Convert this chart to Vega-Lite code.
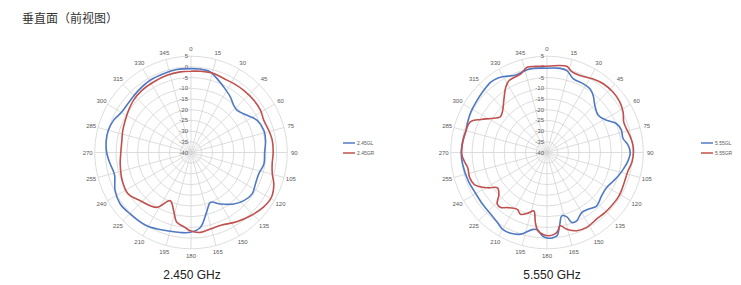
{
  "$schema": "https://vega.github.io/schema/vega-lite/v6.json",
  "background": "white",
  "padding": {"left": 13, "top": 13, "right": 0, "bottom": 0},
  "title": {"text": "垂直面（前视图）", "anchor": "start", "font": "Noto Sans CJK SC", "fontSize": 12, "fontWeight": "normal", "color": "#333333", "dx": 9, "offset": 5},
  "config": {"view": {"stroke": null}, "text": {"font": "Liberation Sans"}, "concat": {"spacing": 0}},
  "spacing": 0,
  "bounds": "flush",
  "datasets": {
    "rings": [{"v": 5}, {"v": 0}, {"v": -5}, {"v": -10}, {"v": -15}, {"v": -20}, {"v": -25}, {"v": -30}, {"v": -35}],
    "ticks": [{"v": 5}, {"v": 0}, {"v": -5}, {"v": -10}, {"v": -15}, {"v": -20}, {"v": -25}, {"v": -30}, {"v": -35}, {"v": -40}],
    "spokes": [{"a": 0}, {"a": 15}, {"a": 30}, {"a": 45}, {"a": 60}, {"a": 75}, {"a": 90}, {"a": 105}, {"a": 120}, {"a": 135}, {"a": 150}, {"a": 165}, {"a": 180}, {"a": 195}, {"a": 210}, {"a": 225}, {"a": 240}, {"a": 255}, {"a": 270}, {"a": 285}, {"a": 300}, {"a": 315}, {"a": 330}, {"a": 345}],
    "p1": [
      {"s": "2.45GL", "a": 0, "db": -0.8}, {"s": "2.45GL", "a": 6, "db": -0.8}, {"s": "2.45GL", "a": 13.5, "db": -1.3}, {"s": "2.45GL", "a": 19.4, "db": -3.4}, {"s": "2.45GL", "a": 26.6, "db": -5.8}, {"s": "2.45GL", "a": 35.4, "db": -8.2}, {"s": "2.45GL", "a": 42.2, "db": -10.3}, {"s": "2.45GL", "a": 47.6, "db": -10.8}, {"s": "2.45GL", "a": 56.5, "db": -8.5}, {"s": "2.45GL", "a": 64.1, "db": -5.6}, {"s": "2.45GL", "a": 73.2, "db": -4.4}, {"s": "2.45GL", "a": 80.8, "db": -4.7}, {"s": "2.45GL", "a": 90, "db": -5.6}, {"s": "2.45GL", "a": 98.9, "db": -5.5}, {"s": "2.45GL", "a": 107.5, "db": -6.8}, {"s": "2.45GL", "a": 116, "db": -6.5}, {"s": "2.45GL", "a": 124.1, "db": -5.5}, {"s": "2.45GL", "a": 132.3, "db": -6.6}, {"s": "2.45GL", "a": 140.3, "db": -8.7}, {"s": "2.45GL", "a": 150.3, "db": -12.3}, {"s": "2.45GL", "a": 158.7, "db": -15.0}, {"s": "2.45GL", "a": 164.6, "db": -11.8}, {"s": "2.45GL", "a": 172.9, "db": -4.7}, {"s": "2.45GL", "a": 180.5, "db": -2.7}, {"s": "2.45GL", "a": 187.6, "db": -2.3}, {"s": "2.45GL", "a": 197.1, "db": -1.7}, {"s": "2.45GL", "a": 211.1, "db": 0.0}, {"s": "2.45GL", "a": 224.7, "db": 0.4}, {"s": "2.45GL", "a": 234, "db": 0.9}, {"s": "2.45GL", "a": 243.3, "db": -0.3}, {"s": "2.45GL", "a": 253.9, "db": -2.8}, {"s": "2.45GL", "a": 262.2, "db": -1.8}, {"s": "2.45GL", "a": 270, "db": -0.6}, {"s": "2.45GL", "a": 278.1, "db": 0.0}, {"s": "2.45GL", "a": 285, "db": 0.0}, {"s": "2.45GL", "a": 292.5, "db": -0.8}, {"s": "2.45GL", "a": 300.3, "db": -2.5}, {"s": "2.45GL", "a": 310.6, "db": -2.6}, {"s": "2.45GL", "a": 319.8, "db": -2.0}, {"s": "2.45GL", "a": 330.5, "db": -1.2}, {"s": "2.45GL", "a": 340.8, "db": -1.0}, {"s": "2.45GL", "a": 350.4, "db": -0.7}, {"s": "2.45GL", "a": 360, "db": -0.8},
      {"s": "2.45GR", "a": 0, "db": -2.0}, {"s": "2.45GR", "a": 6.6, "db": -1.8}, {"s": "2.45GR", "a": 16.1, "db": -1.6}, {"s": "2.45GR", "a": 23.9, "db": -2.2}, {"s": "2.45GR", "a": 31.9, "db": -2.1}, {"s": "2.45GR", "a": 40.3, "db": -1.9}, {"s": "2.45GR", "a": 50.3, "db": -1.8}, {"s": "2.45GR", "a": 58.8, "db": -2.0}, {"s": "2.45GR", "a": 66.2, "db": -2.8}, {"s": "2.45GR", "a": 74.2, "db": -2.2}, {"s": "2.45GR", "a": 81.6, "db": -1.6}, {"s": "2.45GR", "a": 90, "db": -1.6}, {"s": "2.45GR", "a": 98, "db": -1.7}, {"s": "2.45GR", "a": 104.8, "db": -0.7}, {"s": "2.45GR", "a": 110.8, "db": 1.4}, {"s": "2.45GR", "a": 118.9, "db": 3.0}, {"s": "2.45GR", "a": 127, "db": 2.4}, {"s": "2.45GR", "a": 136.7, "db": 0.6}, {"s": "2.45GR", "a": 146.6, "db": -1.2}, {"s": "2.45GR", "a": 157, "db": -3.2}, {"s": "2.45GR", "a": 165.8, "db": -3.1}, {"s": "2.45GR", "a": 173.3, "db": -2.4}, {"s": "2.45GR", "a": 180.5, "db": -3.4}, {"s": "2.45GR", "a": 185, "db": -5.0}, {"s": "2.45GR", "a": 191.4, "db": -6.7}, {"s": "2.45GR", "a": 196.6, "db": -11.6}, {"s": "2.45GR", "a": 203.3, "db": -15.5}, {"s": "2.45GR", "a": 211.9, "db": -9.8}, {"s": "2.45GR", "a": 226.5, "db": -7.3}, {"s": "2.45GR", "a": 237.1, "db": -4.8}, {"s": "2.45GR", "a": 247.9, "db": -5.3}, {"s": "2.45GR", "a": 260.9, "db": -6.5}, {"s": "2.45GR", "a": 270, "db": -7.2}, {"s": "2.45GR", "a": 279.9, "db": -7.2}, {"s": "2.45GR", "a": 287.9, "db": -6.5}, {"s": "2.45GR", "a": 296, "db": -5.8}, {"s": "2.45GR", "a": 304, "db": -4.8}, {"s": "2.45GR", "a": 312.2, "db": -3.7}, {"s": "2.45GR", "a": 321.7, "db": -3.0}, {"s": "2.45GR", "a": 332, "db": -2.7}, {"s": "2.45GR", "a": 342.7, "db": -2.2}, {"s": "2.45GR", "a": 352.4, "db": -2.0}, {"s": "2.45GR", "a": 360, "db": -2.0}
    ],
    "p2": [
      {"s": "5.55GL", "a": 0, "db": -0.6}, {"s": "5.55GL", "a": 8.9, "db": -0.2}, {"s": "5.55GL", "a": 13.6, "db": -0.6}, {"s": "5.55GL", "a": 19.7, "db": -3.4}, {"s": "5.55GL", "a": 27.9, "db": -3.7}, {"s": "5.55GL", "a": 34, "db": -4.1}, {"s": "5.55GL", "a": 39, "db": -5.7}, {"s": "5.55GL", "a": 45.4, "db": -8.6}, {"s": "5.55GL", "a": 53.9, "db": -10.4}, {"s": "5.55GL", "a": 61.4, "db": -8.4}, {"s": "5.55GL", "a": 67.3, "db": -4.9}, {"s": "5.55GL", "a": 73.2, "db": -3.7}, {"s": "5.55GL", "a": 79.4, "db": -3.9}, {"s": "5.55GL", "a": 84.6, "db": -2.0}, {"s": "5.55GL", "a": 90, "db": -1.1}, {"s": "5.55GL", "a": 96.3, "db": -2.0}, {"s": "5.55GL", "a": 102.7, "db": -3.6}, {"s": "5.55GL", "a": 108.5, "db": -5.0}, {"s": "5.55GL", "a": 113.5, "db": -6.3}, {"s": "5.55GL", "a": 120.7, "db": -7.7}, {"s": "5.55GL", "a": 128.7, "db": -7.4}, {"s": "5.55GL", "a": 137.2, "db": -5.9}, {"s": "5.55GL", "a": 144, "db": -7.2}, {"s": "5.55GL", "a": 150, "db": -7.6}, {"s": "5.55GL", "a": 156.5, "db": -5.2}, {"s": "5.55GL", "a": 160.5, "db": -5.3}, {"s": "5.55GL", "a": 162.9, "db": -8.5}, {"s": "5.55GL", "a": 166.8, "db": -9.6}, {"s": "5.55GL", "a": 170.3, "db": -5.2}, {"s": "5.55GL", "a": 173.2, "db": -0.8}, {"s": "5.55GL", "a": 176.7, "db": 0.0}, {"s": "5.55GL", "a": 180, "db": 0.0}, {"s": "5.55GL", "a": 183.4, "db": -1.1}, {"s": "5.55GL", "a": 187, "db": -3.6}, {"s": "5.55GL", "a": 191, "db": -3.3}, {"s": "5.55GL", "a": 197.9, "db": 0.1}, {"s": "5.55GL", "a": 204.2, "db": 1.4}, {"s": "5.55GL", "a": 210.2, "db": 1.4}, {"s": "5.55GL", "a": 215.3, "db": 0.1}, {"s": "5.55GL", "a": 222.3, "db": -1.0}, {"s": "5.55GL", "a": 231.2, "db": -1.4}, {"s": "5.55GL", "a": 242, "db": -1.5}, {"s": "5.55GL", "a": 250, "db": -0.9}, {"s": "5.55GL", "a": 261.7, "db": -0.2}, {"s": "5.55GL", "a": 270, "db": 0.1}, {"s": "5.55GL", "a": 277.4, "db": -0.3}, {"s": "5.55GL", "a": 285.5, "db": -0.8}, {"s": "5.55GL", "a": 291.2, "db": -0.3}, {"s": "5.55GL", "a": 298.1, "db": 0.3}, {"s": "5.55GL", "a": 305.4, "db": 0.7}, {"s": "5.55GL", "a": 313.2, "db": 1.3}, {"s": "5.55GL", "a": 321.4, "db": 2.1}, {"s": "5.55GL", "a": 326.3, "db": 1.7}, {"s": "5.55GL", "a": 330.5, "db": 0.8}, {"s": "5.55GL", "a": 336.8, "db": -0.9}, {"s": "5.55GL", "a": 341.6, "db": -0.8}, {"s": "5.55GL", "a": 346.6, "db": -0.2}, {"s": "5.55GL", "a": 351.1, "db": -0.2}, {"s": "5.55GL", "a": 360, "db": -0.6},
      {"s": "5.55GR", "a": 0, "db": 0.3}, {"s": "5.55GR", "a": 12.9, "db": 1.3}, {"s": "5.55GR", "a": 17, "db": -0.5}, {"s": "5.55GR", "a": 23.2, "db": -0.9}, {"s": "5.55GR", "a": 32.1, "db": 0.6}, {"s": "5.55GR", "a": 39.3, "db": 1.5}, {"s": "5.55GR", "a": 47.5, "db": 1.8}, {"s": "5.55GR", "a": 55.2, "db": 1.4}, {"s": "5.55GR", "a": 61.9, "db": 0.3}, {"s": "5.55GR", "a": 68.2, "db": -1.4}, {"s": "5.55GR", "a": 73.1, "db": -1.3}, {"s": "5.55GR", "a": 79.2, "db": -0.4}, {"s": "5.55GR", "a": 84.9, "db": 0.3}, {"s": "5.55GR", "a": 90, "db": 0.4}, {"s": "5.55GR", "a": 96, "db": 0.0}, {"s": "5.55GR", "a": 103.1, "db": -1.2}, {"s": "5.55GR", "a": 110.3, "db": -1.3}, {"s": "5.55GR", "a": 117.5, "db": -0.9}, {"s": "5.55GR", "a": 122.5, "db": -0.7}, {"s": "5.55GR", "a": 129.7, "db": -0.9}, {"s": "5.55GR", "a": 136.1, "db": -1.0}, {"s": "5.55GR", "a": 143.4, "db": -1.2}, {"s": "5.55GR", "a": 152.1, "db": -0.4}, {"s": "5.55GR", "a": 159.2, "db": -0.9}, {"s": "5.55GR", "a": 165.5, "db": -3.0}, {"s": "5.55GR", "a": 169.8, "db": -5.2}, {"s": "5.55GR", "a": 172.4, "db": -2.8}, {"s": "5.55GR", "a": 175.4, "db": -1.5}, {"s": "5.55GR", "a": 178.9, "db": -1.1}, {"s": "5.55GR", "a": 182.3, "db": -1.5}, {"s": "5.55GR", "a": 186.7, "db": -3.2}, {"s": "5.55GR", "a": 189.4, "db": -6.8}, {"s": "5.55GR", "a": 192.7, "db": -12.0}, {"s": "5.55GR", "a": 197, "db": -10.5}, {"s": "5.55GR", "a": 203.2, "db": -8.6}, {"s": "5.55GR", "a": 207.6, "db": -10.0}, {"s": "5.55GR", "a": 215.7, "db": -8.3}, {"s": "5.55GR", "a": 220, "db": -6.4}, {"s": "5.55GR", "a": 224, "db": -6.5}, {"s": "5.55GR", "a": 229, "db": -10.2}, {"s": "5.55GR", "a": 234.5, "db": -11.6}, {"s": "5.55GR", "a": 239.3, "db": -7.7}, {"s": "5.55GR", "a": 246.2, "db": -2.9}, {"s": "5.55GR", "a": 252, "db": -2.0}, {"s": "5.55GR", "a": 258.9, "db": -2.3}, {"s": "5.55GR", "a": 263.8, "db": -1.2}, {"s": "5.55GR", "a": 268.4, "db": -0.2}, {"s": "5.55GR", "a": 277.4, "db": -0.3}, {"s": "5.55GR", "a": 285.5, "db": -0.8}, {"s": "5.55GR", "a": 291.8, "db": -1.4}, {"s": "5.55GR", "a": 296.6, "db": -5.5}, {"s": "5.55GR", "a": 301.2, "db": -9.3}, {"s": "5.55GR", "a": 307.3, "db": -12.5}, {"s": "5.55GR", "a": 312.3, "db": -11.8}, {"s": "5.55GR", "a": 321.4, "db": -7.8}, {"s": "5.55GR", "a": 327.7, "db": -3.9}, {"s": "5.55GR", "a": 332.2, "db": -2.0}, {"s": "5.55GR", "a": 341.4, "db": -1.3}, {"s": "5.55GR", "a": 346.9, "db": 0.9}, {"s": "5.55GR", "a": 352.4, "db": 0.6}, {"s": "5.55GR", "a": 360, "db": 0.3}
    ]
  },
  "hconcat": [
    {
      "width": 356, "height": 243,
      "title": {"text": "2.450 GHz", "orient": "bottom", "offset": -4, "fontSize": 12, "font": "Liberation Sans", "fontWeight": "normal", "color": "#222222", "dx": 1},
      "layer": [
        {"data": {"name": "spokes"},
         "transform": [{"calculate": "0", "as": "o"}, {"calculate": "45*sin(datum.a*PI/180)", "as": "x2"}, {"calculate": "45*cos(datum.a*PI/180)", "as": "y2"}],
         "mark": {"type": "rule", "stroke": "#d4d4d4", "strokeWidth": 0.8},
         "encoding": {"x": {"field": "o", "type": "quantitative", "scale": {"domain": [-83.18, 83.18], "nice": false, "zero": false}, "axis": null},
                      "y": {"field": "o", "type": "quantitative", "scale": {"domain": [-56.78, 56.78], "nice": false, "zero": false}, "axis": null},
                      "x2": {"field": "x2"}, "y2": {"field": "y2"}}},
        {"data": {"name": "rings"},
         "transform": [{"calculate": "datum.v+40", "as": "r"}, {"calculate": "0", "as": "o"}],
         "mark": {"type": "point", "shape": "circle", "filled": false, "stroke": "#d4d4d4", "strokeWidth": 0.8, "opacity": 1},
         "encoding": {"x": {"field": "o", "type": "quantitative"}, "y": {"field": "o", "type": "quantitative"},
                      "size": {"field": "r", "type": "quantitative", "scale": {"type": "pow", "exponent": 2, "domain": [0, 45], "range": [0, 37094], "zero": false}, "legend": null}}},
        {"data": {"name": "spokes"},
         "transform": [{"calculate": "48.3*sin(datum.a*PI/180)", "as": "tx"}, {"calculate": "48.3*cos(datum.a*PI/180)", "as": "ty"}],
         "mark": {"type": "text", "fontSize": 6, "color": "#595959"},
         "encoding": {"x": {"field": "tx", "type": "quantitative"}, "y": {"field": "ty", "type": "quantitative"}, "text": {"field": "a", "type": "nominal"}}},
        {"data": {"name": "ticks"},
         "transform": [{"calculate": "datum.v+40", "as": "r"}, {"calculate": "0", "as": "o"}],
         "mark": {"type": "text", "fontSize": 6, "color": "#595959", "align": "right", "dx": -3, "baseline": "middle"},
         "encoding": {"x": {"field": "o", "type": "quantitative"}, "y": {"field": "r", "type": "quantitative"}, "text": {"field": "v", "type": "nominal"}}},
        {"data": {"name": "p1"},
         "transform": [{"calculate": "(datum.db+40)*sin(datum.a*PI/180)", "as": "x"}, {"calculate": "(datum.db+40)*cos(datum.a*PI/180)", "as": "y"}],
         "mark": {"type": "line", "interpolate": "catmull-rom", "strokeWidth": 1.6},
         "encoding": {"x": {"field": "x", "type": "quantitative"}, "y": {"field": "y", "type": "quantitative"}, "order": {"field": "a", "type": "quantitative"},
                      "color": {"field": "s", "type": "nominal", "scale": {"domain": ["2.45GL", "2.45GR"], "range": ["#5079c4", "#c0504d"]},
                                "legend": {"orient": "none", "legendX": 329, "legendY": 105, "title": null, "symbolType": "stroke", "symbolSize": 144, "symbolStrokeWidth": 1.5, "labelFontSize": 5, "labelColor": "#595959", "labelOffset": 1, "rowPadding": 0, "padding": 0}}}}
      ]
    },
    {
      "width": 356, "height": 243,
      "title": {"text": "5.550 GHz", "orient": "bottom", "offset": -4, "fontSize": 12, "font": "Liberation Sans", "fontWeight": "normal", "color": "#222222", "dx": 5},
      "layer": [
        {"data": {"name": "spokes"},
         "transform": [{"calculate": "0", "as": "o"}, {"calculate": "45*sin(datum.a*PI/180)", "as": "x2"}, {"calculate": "45*cos(datum.a*PI/180)", "as": "y2"}],
         "mark": {"type": "rule", "stroke": "#d4d4d4", "strokeWidth": 0.8},
         "encoding": {"x": {"field": "o", "type": "quantitative", "scale": {"domain": [-83.18, 83.18], "nice": false, "zero": false}, "axis": null},
                      "y": {"field": "o", "type": "quantitative", "scale": {"domain": [-56.78, 56.78], "nice": false, "zero": false}, "axis": null},
                      "x2": {"field": "x2"}, "y2": {"field": "y2"}}},
        {"data": {"name": "rings"},
         "transform": [{"calculate": "datum.v+40", "as": "r"}, {"calculate": "0", "as": "o"}],
         "mark": {"type": "point", "shape": "circle", "filled": false, "stroke": "#d4d4d4", "strokeWidth": 0.8, "opacity": 1},
         "encoding": {"x": {"field": "o", "type": "quantitative"}, "y": {"field": "o", "type": "quantitative"},
                      "size": {"field": "r", "type": "quantitative", "scale": {"type": "pow", "exponent": 2, "domain": [0, 45], "range": [0, 37094], "zero": false}, "legend": null}}},
        {"data": {"name": "spokes"},
         "transform": [{"calculate": "48.3*sin(datum.a*PI/180)", "as": "tx"}, {"calculate": "48.3*cos(datum.a*PI/180)", "as": "ty"}],
         "mark": {"type": "text", "fontSize": 6, "color": "#595959"},
         "encoding": {"x": {"field": "tx", "type": "quantitative"}, "y": {"field": "ty", "type": "quantitative"}, "text": {"field": "a", "type": "nominal"}}},
        {"data": {"name": "ticks"},
         "transform": [{"calculate": "datum.v+40", "as": "r"}, {"calculate": "0", "as": "o"}],
         "mark": {"type": "text", "fontSize": 6, "color": "#595959", "align": "right", "dx": -3, "baseline": "middle"},
         "encoding": {"x": {"field": "o", "type": "quantitative"}, "y": {"field": "r", "type": "quantitative"}, "text": {"field": "v", "type": "nominal"}}},
        {"data": {"name": "p2"},
         "transform": [{"calculate": "(datum.db+40)*sin(datum.a*PI/180)", "as": "x"}, {"calculate": "(datum.db+40)*cos(datum.a*PI/180)", "as": "y"}],
         "mark": {"type": "line", "interpolate": "catmull-rom", "strokeWidth": 1.6},
         "encoding": {"x": {"field": "x", "type": "quantitative"}, "y": {"field": "y", "type": "quantitative"}, "order": {"field": "a", "type": "quantitative"},
                      "color": {"field": "s", "type": "nominal", "scale": {"domain": ["5.55GL", "5.55GR"], "range": ["#5079c4", "#c0504d"]},
                                "legend": {"orient": "none", "legendX": 331, "legendY": 105, "title": null, "symbolType": "stroke", "symbolSize": 144, "symbolStrokeWidth": 1.5, "labelFontSize": 5, "labelColor": "#595959", "labelOffset": 1, "rowPadding": 0, "padding": 0}}}}
      ]
    }
  ],
  "resolve": {"scale": {"color": "independent", "x": "independent", "y": "independent", "size": "independent"}, "legend": {"color": "independent"}}
}
